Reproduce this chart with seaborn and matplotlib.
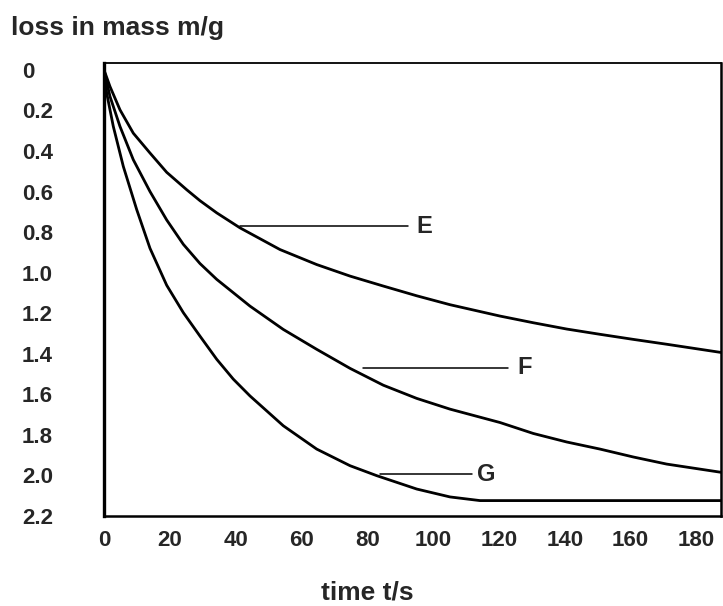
import matplotlib
matplotlib.use('Agg')
import matplotlib.pyplot as plt
import pandas as pd
import seaborn as sns

sns.set_style('white')
plt.rcParams['font.family'] = ['Liberation Sans', 'DejaVu Sans']
plt.rcParams['font.weight'] = 'bold'

# values (time in s, loss in mass in g)
time_e = [0, 1.82, 4.86, 8.90, 13.98, 19.05, 25.13, 29.17, 34.25, 41.33, 53.48,
          64.64, 74.78, 84.88, 95.03, 105.15, 120.34, 130.46, 140.61, 150.73,
          160.85, 171.00, 187.71]
mass_e = [0, 0.082, 0.197, 0.312, 0.410, 0.505, 0.591, 0.645, 0.705, 0.779, 0.886,
          0.960, 1.017, 1.066, 1.114, 1.158, 1.214, 1.247, 1.278, 1.304,
          1.329, 1.353, 1.394]

time_f = [0, 1.82, 4.86, 8.90, 13.98, 19.05, 24.10, 29.17, 34.25, 44.37, 54.49,
          64.64, 74.78, 84.88, 95.03, 105.15, 120.34, 130.46, 140.61, 150.73,
          160.85, 171.00, 187.71]
mass_f = [0, 0.131, 0.279, 0.443, 0.600, 0.740, 0.860, 0.955, 1.033, 1.165, 1.280,
          1.378, 1.472, 1.555, 1.620, 1.673, 1.739, 1.793, 1.835, 1.870,
          1.909, 1.944, 1.985]

time_g = [0, 0.82, 2.83, 5.87, 9.94, 13.98, 19.05, 24.10, 29.17, 34.25, 39.29,
          44.37, 54.49, 64.64, 74.78, 82.87, 95.03, 105.15, 114.26, 187.71]
mass_g = [0, 0.115, 0.279, 0.476, 0.689, 0.880, 1.062, 1.197, 1.313, 1.427, 1.525,
          1.608, 1.755, 1.870, 1.952, 2.001, 2.067, 2.106, 2.124, 2.124]

x_ticks = [0, 20, 40, 60, 80, 100, 120, 140, 160, 180]
y_ticks = [0, 0.2, 0.4, 0.6, 0.8, 1.0, 1.2, 1.4, 1.6, 1.8, 2.0, 2.2]
y_labels = ['0', '0.2', '0.4', '0.6', '0.8', '1.0', '1.2', '1.4', '1.6', '1.8', '2.0', '2.2']

# curve labels: name, leader start t, leader end t, mass, text t
curve_labels = [('E', 41.3, 92.5, 0.771, 95.0),
                ('F', 78.8, 122.9, 1.468, 125.5),
                ('G', 83.9, 111.8, 1.993, 113.5)]

df = pd.concat([
    pd.DataFrame({'t': time_e, 'm': mass_e, 'curve': 'E'}),
    pd.DataFrame({'t': time_f, 'm': mass_f, 'curve': 'F'}),
    pd.DataFrame({'t': time_g, 'm': mass_g, 'curve': 'G'}),
])

fig = plt.figure(figsize=(7.23, 6.06), dpi=100)
ax = fig.add_axes([104 / 723, 90 / 606, 617 / 723, 453 / 606])

for name, group in df.groupby('curve'):
    sns.lineplot(data=group, x='t', y='m', ax=ax, color='black',
                 linewidth=2.0, sort=False, estimator=None)

for name, t0, t1, m, tt in curve_labels:
    ax.plot([t0, t1], [m, m], color='black', linewidth=1.1)
    ax.text(tt, m, name, fontsize=17, fontweight='bold',
            ha='left', va='center')

ax.set_xlim(0, 187.5)
ax.set_ylim(2.195, -0.034)
ax.set_xticks(x_ticks)
ax.set_xticklabels([str(v) for v in x_ticks], fontsize=16)
ax.set_yticks(y_ticks)
ax.set_yticklabels(y_labels, fontsize=16)
for label in ax.get_yticklabels():
    label.set_horizontalalignment('left')
ax.tick_params(axis='y', length=0, pad=59)
ax.tick_params(axis='x', length=0, pad=10)
ax.set_xlabel('')
ax.set_ylabel('')

for side in ['left', 'bottom', 'top', 'right']:
    ax.spines[side].set_color('black')
    ax.spines[side].set_linewidth(1.8)
ax.spines['left'].set_linewidth(2.4)
ax.spines['top'].set_linewidth(1.3)

fig.text(11 / 723, 1 - 28 / 606, 'loss in mass m/g', fontsize=19,
         fontweight='bold', ha='left', va='center')
fig.text(367 / 723, 1 - 593 / 606, 'time t/s', fontsize=19,
         fontweight='bold', ha='center', va='center')

fig.savefig('out.png', dpi=100)
